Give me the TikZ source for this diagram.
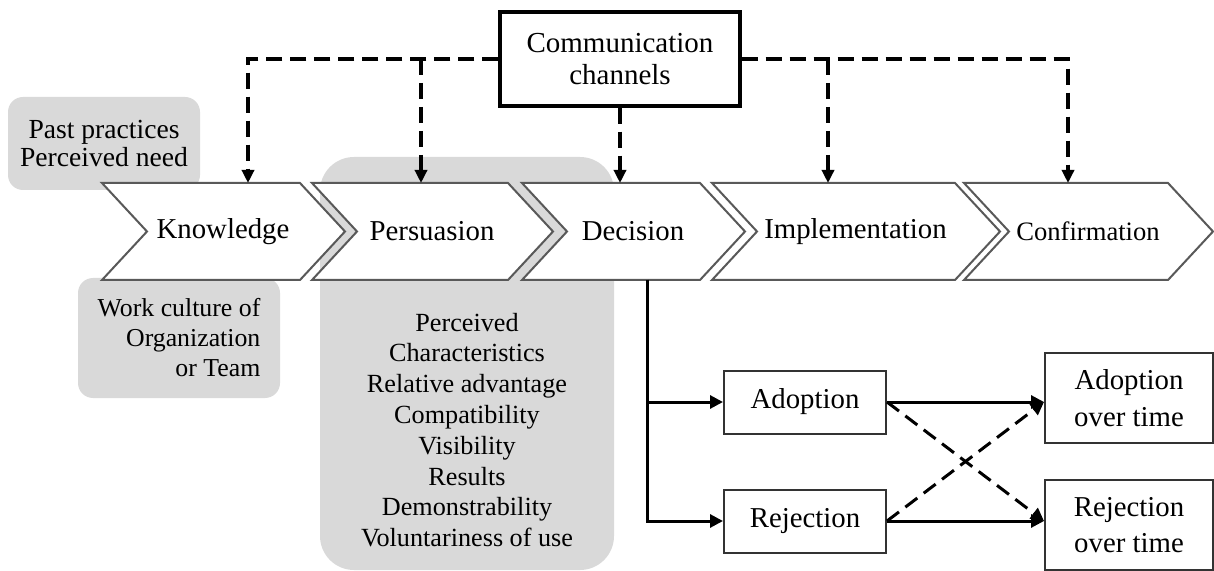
\documentclass[tikz,border=0pt]{standalone}
\usepackage{fontspec}
\setmainfont{Liberation Serif}
\usetikzlibrary{arrows.meta}

\begin{document}
\begin{tikzpicture}[x=0.5pt,y=-0.5pt,
  panel/.style = {rectangle,rounded corners=7.5pt,fill=gray!30,draw=none,inner sep=0pt},
  stage/.style = {draw=black!65,line width=1pt,fill=white},
  stagetext/.style = {font=\fontsize{14.4}{16}\selectfont},
  smallstage/.style = {font=\fontsize{13.3}{15}\selectfont},
  box/.style = {rectangle,draw=black!80,line width=1pt,fill=white,inner sep=0pt,align=center,font=\fontsize{14.4}{18.3}\selectfont},
  channel/.style = {line width=1.8pt,dash pattern=on 8pt off 4pt,-{Triangle[length=6.5pt,width=6pt]}},
  flow/.style = {line width=1.5pt,-{Triangle[length=6.5pt,width=6.5pt]}},
  cross/.style = {line width=1.5pt,dash pattern=on 7.5pt off 4pt,-{Triangle[length=6.5pt,width=6.5pt]}}]
\useasboundingbox (0,0) rectangle (1214,571);

% grey backdrops
\node[panel,minimum width=96pt,minimum height=46.5pt,align=center,font=\fontsize{13.8}{14}\selectfont] (past) at (104,143.5) {Past practices\\Perceived need};
\node[panel,minimum width=101pt,minimum height=60pt,align=right,font=\fontsize{12.9}{15}\selectfont] (culture) at (179,338) {Work culture of\\Organization\\or Team};
\node[panel,rounded corners=17pt,minimum width=147pt,minimum height=206.5pt] (persbg) at (467,363.5) {};
\node[align=center,font=\fontsize{13.1}{15.4}\selectfont] (traits) at (467,430) {Perceived\\Characteristics\\Relative advantage\\Compatibility\\Visibility\\Results\\Demonstrability\\Voluntariness of use};

% stages
\foreach \l/\r/\d/\name/\txt/\st in {102/300/248/know/Knowledge/stagetext,312/508/421/pers/Persuasion/stagetext,522/700/620/deci/Decision/stagetext,712/955/828/impl/Implementation/stagetext,964/1168/1068/conf/Confirmation/smallstage} {
  \draw[stage] (\l,183) -- (\r,183) -- (\r+45,231.5) -- (\r,280) -- (\l,280) -- (\l+45,231.5) -- cycle;
  \node[\st] (\name) at ({(\l+\r)/2+22},231.5) {\txt};
  \coordinate (\name-in) at (\d,183);
}

\node[box,line width=1.6pt,draw=black,minimum width=120pt,minimum height=47pt,font=\fontsize{14.5}{16.3}\selectfont] (comm) at (620,59) {Communication\\channels};

% channels
\draw[channel] (comm.west) -| (know-in);
\draw[channel] (pers-in |- comm.west) -- (pers-in);
\draw[channel] (comm.south) -- (deci-in);
\draw[channel] (comm.east) -| (conf-in);
\draw[channel] (impl-in |- comm.east) -- (impl-in);

% outcome
\coordinate (deci-out) at (647,280);
\node[box,minimum width=81pt,minimum height=31.5pt] (adop) at (805,402) {Adoption};
\node[box,minimum width=81pt,minimum height=31.5pt] (reje) at (805,521) {Rejection};
\node[box,minimum width=84pt,minimum height=45pt] (adoptime) at (1129,398) {Adoption\\over time};
\node[box,minimum width=84pt,minimum height=45pt] (rejetime) at (1129,525) {Rejection\\over time};

\draw[flow] (deci-out) |- (adop.west);
\draw[flow] (deci-out) |- (reje.west);
\draw[flow] (adop.east) -- (adop.east -| adoptime.west);
\draw[flow] (reje.east) -- (reje.east -| rejetime.west);
\draw[cross] (adop.east) -- (reje.east -| rejetime.west);
\draw[cross] (reje.east) -- (adop.east -| adoptime.west);
\end{tikzpicture}
\end{document}
